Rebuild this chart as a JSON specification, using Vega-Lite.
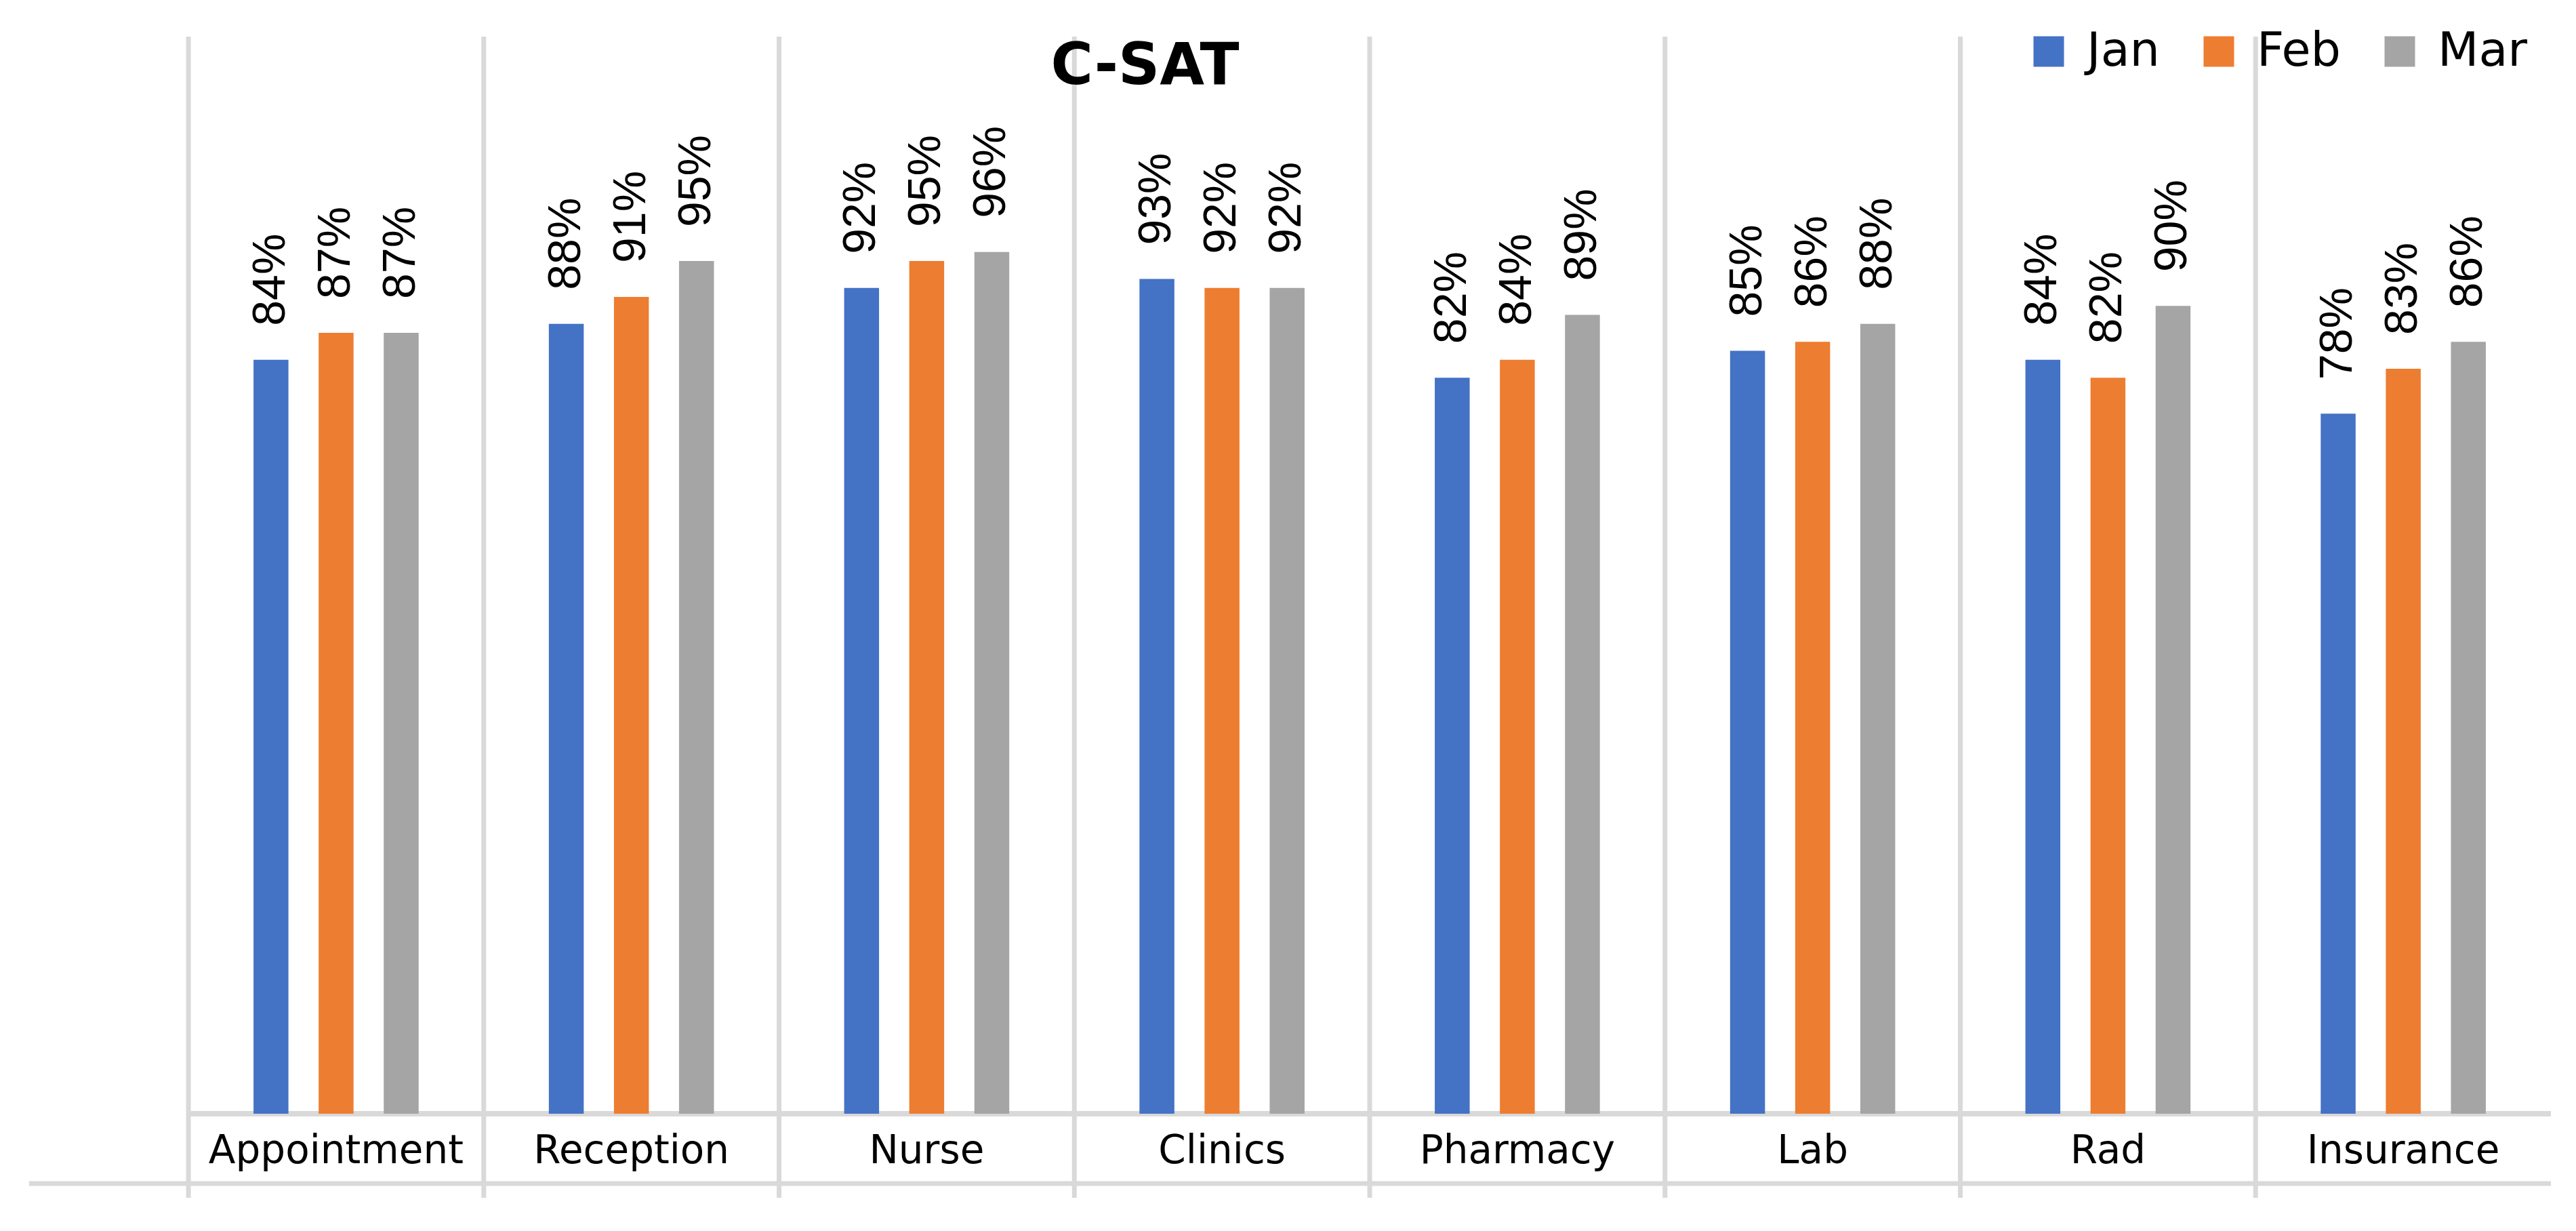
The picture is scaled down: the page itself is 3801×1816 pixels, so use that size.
{
  "$schema": "https://vega.github.io/schema/vega-lite/v6.json",
  "width": 3721,
  "height": 1589,
  "autosize": {"type": "none"},
  "padding": {"left": 43, "top": 54, "right": 37, "bottom": 173},
  "background": "white",
  "config": {"view": {"stroke": null}},
  "title": {
    "text": "C-SAT",
    "font": "DejaVu Sans",
    "fontSize": 85,
    "fontWeight": "bold",
    "color": "#000000",
    "anchor": "middle",
    "frame": "group",
    "dx": -214,
    "offset": -168,
    "baseline": "alphabetic"
  },
  "data": {
    "values": [
      {"category": "Appointment", "month": "Jan", "value": 0.84},
      {"category": "Appointment", "month": "Feb", "value": 0.87},
      {"category": "Appointment", "month": "Mar", "value": 0.87},
      {"category": "Reception", "month": "Jan", "value": 0.88},
      {"category": "Reception", "month": "Feb", "value": 0.91},
      {"category": "Reception", "month": "Mar", "value": 0.95},
      {"category": "Nurse", "month": "Jan", "value": 0.92},
      {"category": "Nurse", "month": "Feb", "value": 0.95},
      {"category": "Nurse", "month": "Mar", "value": 0.96},
      {"category": "Clinics", "month": "Jan", "value": 0.93},
      {"category": "Clinics", "month": "Feb", "value": 0.92},
      {"category": "Clinics", "month": "Mar", "value": 0.92},
      {"category": "Pharmacy", "month": "Jan", "value": 0.82},
      {"category": "Pharmacy", "month": "Feb", "value": 0.84},
      {"category": "Pharmacy", "month": "Mar", "value": 0.89},
      {"category": "Lab", "month": "Jan", "value": 0.85},
      {"category": "Lab", "month": "Feb", "value": 0.86},
      {"category": "Lab", "month": "Mar", "value": 0.88},
      {"category": "Rad", "month": "Jan", "value": 0.84},
      {"category": "Rad", "month": "Feb", "value": 0.82},
      {"category": "Rad", "month": "Mar", "value": 0.90},
      {"category": "Insurance", "month": "Jan", "value": 0.78},
      {"category": "Insurance", "month": "Feb", "value": 0.83},
      {"category": "Insurance", "month": "Mar", "value": 0.86}
    ]
  },
  "layer": [
    {
      "transform": [{"filter": "datum.month === 'Jan'"}],
      "mark": {"type": "rule", "color": "#D9D9D9", "strokeWidth": 7},
      "encoding": {
        "x": {
          "field": "category", "type": "nominal", "bandPosition": 0,
          "scale": {"domain": ["Appointment", "Reception", "Nurse", "Clinics", "Pharmacy", "Lab", "Rad", "Insurance"], "paddingInner": 0, "paddingOuter": 0.2697, "align": 1},
          "axis": {"title": null, "domain": false, "ticks": false, "grid": false, "labelFont": "DejaVu Sans", "labelFontSize": 58, "labelColor": "#000000", "labelPadding": 72, "labelBaseline": "alphabetic", "labelAngle": 0, "labelLimit": 800}
        },
        "y": {"datum": 1.2, "type": "quantitative", "scale": {"domain": [0, 1.2], "nice": false, "zero": true}, "axis": null},
        "y2": {"datum": -0.0936}
      }
    },
    {
      "transform": [{"filter": "datum.month === 'Jan' && datum.category === 'Appointment'"}],
      "mark": {"type": "rule", "color": "#D9D9D9", "strokeWidth": 7},
      "encoding": {
        "y": {"datum": -0.0778, "type": "quantitative"}
      }
    },
    {
      "transform": [{"filter": "datum.month === 'Jan' && datum.category === 'Appointment'"}],
      "mark": {"type": "rule", "color": "#D9D9D9", "strokeWidth": 8},
      "encoding": {
        "x": {"datum": "Appointment", "type": "nominal", "bandPosition": 0},
        "x2": {"datum": "Insurance", "bandPosition": 1},
        "y": {"datum": 0, "type": "quantitative"}
      }
    },
    {
      "mark": {"type": "bar"},
      "encoding": {
        "x": {"field": "category", "type": "nominal"},
        "xOffset": {"field": "month", "type": "nominal", "scale": {"domain": ["Jan", "Feb", "Mar"], "paddingInner": 0.464, "paddingOuter": 1.166}},
        "y": {"field": "value", "type": "quantitative"},
        "color": {
          "field": "month", "type": "nominal",
          "scale": {"domain": ["Jan", "Feb", "Mar"], "range": ["#4472C4", "#ED7D31", "#A5A5A5"]},
          "legend": {
            "title": null, "orient": "none", "direction": "horizontal",
            "legendX": 2945, "legendY": -13, "padding": 0, "gridAlign": "none",
            "symbolType": "square", "symbolSize": 2025, "symbolStrokeWidth": 0,
            "labelFont": "DejaVu Sans", "labelFontSize": 70, "labelColor": "#000000",
            "labelOffset": 21, "columnPadding": 52, "labelLimit": 400
          }
        }
      }
    },
    {
      "mark": {"type": "text", "angle": -90, "align": "left", "baseline": "middle", "dx": 50, "font": "Liberation Sans", "fontSize": 68, "color": "#000000"},
      "encoding": {
        "x": {"field": "category", "type": "nominal"},
        "xOffset": {"field": "month", "type": "nominal"},
        "y": {"field": "value", "type": "quantitative"},
        "text": {"field": "value", "type": "quantitative", "format": ".0%"}
      }
    }
  ]
}
